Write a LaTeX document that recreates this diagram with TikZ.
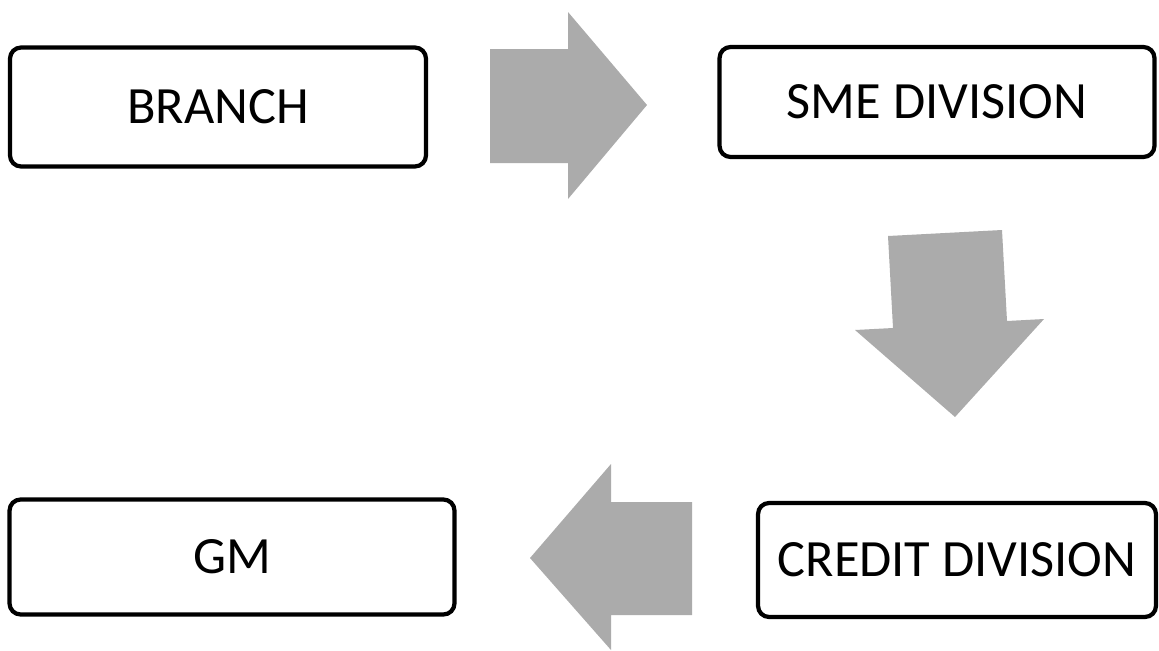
\documentclass[tikz,border=0pt]{standalone}
\usepackage{fontspec}
\setmainfont{Carlito}
\usepackage{tikz}
\usepackage{xcolor}
\definecolor{pfeilgrau}{HTML}{ABABAB}

\begin{document}
\begin{tikzpicture}[x=0.02cm,y=-0.02cm,
	kasten/.style={draw, line width=2.4pt, rounded corners=0.22cm,
		font=\fontsize{29.8}{34}\selectfont, inner sep=0pt, outer sep=0pt}]
	\useasboundingbox (0,0) rectangle (1159,650);
	% die kaesten
	\node[kasten, minimum width=8.32cm, minimum height=2.38cm] (branch) at (218,107) {BRANCH};
	\node[kasten, minimum width=8.7cm, minimum height=2.2cm] (sme) at (937,102) {SME DIVISION};
	\node[kasten, minimum width=7.96cm, minimum height=2.28cm] (credit) at (957,560) {CREDIT DIVISION};
	\node[kasten, minimum width=8.9cm, minimum height=2.3cm] (gm) at (232,557) {GM};
	% pfeil nach rechts
	\fill[pfeilgrau]
		(490,49) -- (568,49) -- (568,12) -- (647,105) -- (568,199) -- (568,163) -- (490,163) -- cycle;
	% pfeil nach unten, leicht gedreht
	\fill[pfeilgrau]
		(888,236) -- (1002,230) -- (1007,321) -- (1044,319) -- (955,417) -- (855,330) -- (893,328) -- cycle;
	% pfeil nach links
	\fill[pfeilgrau]
		(692,502) -- (611,502) -- (611,464) -- (530,558) -- (611,650) -- (611,615) -- (692,615) -- cycle;
\end{tikzpicture}
\end{document}
